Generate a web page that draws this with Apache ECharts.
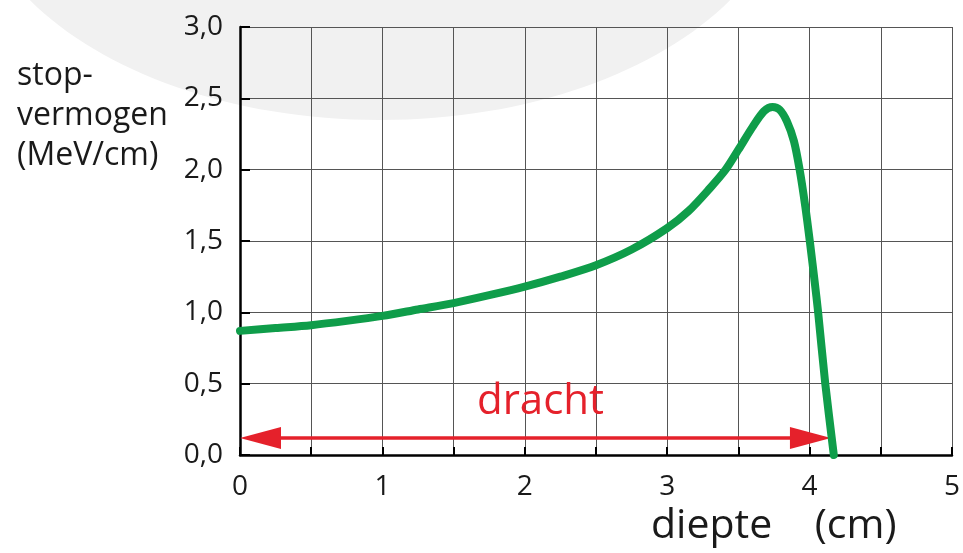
<!DOCTYPE html>
<html>
<head>
<meta charset="utf-8">
<script src="https://cdn.jsdelivr.net/npm/echarts@6/dist/echarts.min.js"></script>
<style>html,body{margin:0;padding:0;background:#fff}#c{width:963px;height:553px}</style>
</head>
<body>
<div id="c"></div>
<script>
var depth = [0, 0.25, 0.5, 0.75, 1.0, 1.25, 1.5, 1.75, 2.0, 2.25, 2.5, 2.75, 3.0, 3.15, 3.3, 3.41, 3.5, 3.6, 3.68, 3.74, 3.79, 3.84, 3.89, 3.93, 3.97, 4.005, 4.035, 4.06, 4.11, 4.17];
var stopping = [0.87, 0.89, 0.91, 0.94, 0.975, 1.02, 1.065, 1.12, 1.18, 1.25, 1.33, 1.44, 1.59, 1.71, 1.87, 2.0, 2.14, 2.3, 2.41, 2.44, 2.42, 2.34, 2.2, 2.0, 1.74, 1.47, 1.22, 1.0, 0.5, 0.0];
var rangeStart = 0;
var rangeEnd = 4.15;
var rangeLevel = 0.12;
var rangeLabel = 'dracht';
var yTitle = 'stop-\nvermogen\n(MeV/cm)';
var xTitle = 'diepte    (cm)';

var font = '"Open Sans", "Noto Sans", sans-serif';
var red = '#e5212b';
var chart = echarts.init(document.getElementById('c'), null, {renderer: 'canvas'});
chart.setOption({
  animation: false,
  backgroundColor: '#fff',
  grid: {left: 240, top: 27, right: 8, bottom: 98, containLabel: false},
  graphic: [
    {type: 'ellipse', z: -10, shape: {cx: 380, cy: -130, rx: 410, ry: 250}, style: {fill: '#f1f1f1'}},
    {type: 'text', left: 17, top: 56, style: {text: yTitle, font: '32px ' + font, fill: '#1a1a1a', lineHeight: 40}},
    {type: 'text', left: 651, top: 506, style: {text: xTitle, font: '41px ' + font, fill: '#1a1a1a'}}
  ],
  xAxis: {
    type: 'value', min: 0, max: 5, interval: 0.5,
    axisLine: {show: true, onZero: false, lineStyle: {color: '#000', width: 2.5}},
    axisTick: {show: true, inside: true, length: 8, lineStyle: {color: '#000', width: 2}},
    axisLabel: {margin: 18, color: '#1a1a1a', fontSize: 28, fontFamily: font,
      formatter: function (v) { return Math.abs(v - Math.round(v)) < 1e-6 ? String(Math.round(v)) : ''; }},
    splitLine: {show: true, lineStyle: {color: '#555', width: 1}}
  },
  yAxis: {
    type: 'value', min: 0, max: 3, interval: 0.5,
    axisLine: {show: true, onZero: false, lineStyle: {color: '#000', width: 2.5}},
    axisTick: {show: true, inside: true, length: 10, lineStyle: {color: '#000', width: 2}},
    axisLabel: {margin: 17, color: '#1a1a1a', fontSize: 28, fontFamily: font, padding: [5, 0, 0, 0],
      formatter: function (v) { return v.toFixed(1).replace('.', ','); }},
    splitLine: {show: true, lineStyle: {color: '#555', width: 1}}
  },
  series: [{
    type: 'line',
    data: depth.map(function (d, i) { return [d, stopping[i]]; }),
    smooth: 0.3,
    showSymbol: false,
    lineStyle: {color: '#0f9d4a', width: 8, cap: 'round', join: 'round'},
    z: 5
  }, {
    type: 'custom',
    coordinateSystem: 'cartesian2d',
    silent: true,
    z: 4,
    encode: {x: [0, 1], y: 2},
    data: [[rangeStart, rangeEnd, rangeLevel]],
    renderItem: function (params, api) {
      var a = api.coord([api.value(0), api.value(2)]);
      var b = api.coord([api.value(1), api.value(2)]);
      var L = 41, W = 11;
      return {
        type: 'group',
        children: [
          {type: 'line', shape: {x1: a[0] + L - 4, y1: a[1], x2: b[0] - L + 4, y2: b[1]}, style: {stroke: red, lineWidth: 3.5}},
          {type: 'polygon', shape: {points: [[a[0], a[1]], [a[0] + L, a[1] - W], [a[0] + L, a[1] + W]]}, style: {fill: red}},
          {type: 'polygon', shape: {points: [[b[0], b[1]], [b[0] - L, b[1] - W], [b[0] - L, b[1] + W]]}, style: {fill: red}},
          {type: 'text', x: (a[0] + b[0]) / 2 + 5, y: a[1] - 15,
            style: {text: rangeLabel, fill: red, font: '42px ' + font, textAlign: 'center', textVerticalAlign: 'bottom'}}
        ]
      };
    }
  }]
});
</script>
</body>
</html>
